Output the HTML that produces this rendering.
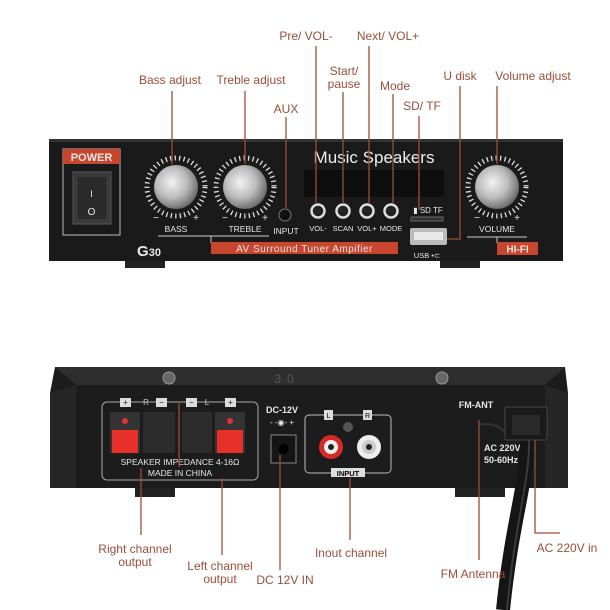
<!DOCTYPE html>
<html><head><meta charset="utf-8"><style>
html,body{margin:0;padding:0;background:#fff;width:610px;height:610px;overflow:hidden}
svg{display:block}
.l{font-family:"Liberation Sans",sans-serif;font-size:12px;fill:#9a4e3a;text-anchor:middle}
.w{font-family:"Liberation Sans",sans-serif;fill:#e8e8e8;text-anchor:middle;font-weight:bold}
.ln{stroke:#9a4e3a;stroke-width:1.3;fill:none}
</style></head><body>
<svg width="610" height="610" viewBox="0 0 610 610" xmlns="http://www.w3.org/2000/svg">
<defs>
<radialGradient id="kn" cx="0.4" cy="0.4" r="0.7"><stop offset="0" stop-color="#f2f2f2"/><stop offset="0.5" stop-color="#bbb"/><stop offset="1" stop-color="#555"/></radialGradient>
</defs>
<!-- FRONT PANEL -->
<rect x="49" y="139" width="514" height="122" fill="#1a1a1a"/>
<rect x="49" y="139" width="514" height="3" fill="#333"/>
<rect x="125" y="261" width="40" height="7" fill="#222"/>
<rect x="440" y="261" width="40" height="7" fill="#222"/>
<rect x="63" y="149" width="57" height="86" fill="none" stroke="#bbb" stroke-width="1"/>
<rect x="63" y="149" width="57" height="15" fill="#c8452e"/>
<text x="91.5" y="161" class="w" style="font-size:11px">POWER</text>
<rect x="73" y="172" width="38" height="52" fill="#3a3a3a" stroke="#555"/>
<rect x="78" y="177" width="28" height="42" fill="#2a2a2a"/>
<text x="91.5" y="197" class="w" style="font-size:9px;font-weight:normal">I</text>
<text x="91.5" y="215" class="w" style="font-size:10px;font-weight:normal">O</text>
<circle cx="176" cy="187" r="29" fill="none" stroke="#ddd" stroke-width="5" stroke-dasharray="1.3 3.2"/>
<circle cx="176" cy="187" r="22" fill="url(#kn)"/>
<circle cx="245" cy="187" r="29" fill="none" stroke="#ddd" stroke-width="5" stroke-dasharray="1.3 3.2"/>
<circle cx="245" cy="187" r="22" fill="url(#kn)"/>
<circle cx="497" cy="187" r="29" fill="none" stroke="#ddd" stroke-width="5" stroke-dasharray="1.3 3.2"/>
<circle cx="497" cy="187" r="22" fill="url(#kn)"/>
<g class="w" style="font-size:10px;font-weight:normal">
<text x="156" y="221">−</text><text x="196" y="221">+</text>
<text x="225" y="221">−</text><text x="265" y="221">+</text>
<text x="477" y="221">−</text><text x="517" y="221">+</text>
</g>
<g class="w" style="font-size:8.5px;font-weight:normal">
<text x="176" y="232">BASS</text><text x="245" y="232">TREBLE</text><text x="286" y="234">INPUT</text>
<text x="497" y="232">VOLUME</text>
<text x="318" y="231" style="font-size:7.5px">VOL-</text><text x="343" y="231" style="font-size:7.5px">SCAN</text>
<text x="367" y="231" style="font-size:7.5px">VOL+</text><text x="391" y="231" style="font-size:7.5px">MODE</text>
<text x="428" y="213" style="font-size:8px">▮ SD  TF</text>
<text x="427" y="258" style="font-size:7.5px">USB •⊂</text>
</g>
<line x1="158" y1="236" x2="269" y2="236" stroke="#ccc"/>
<line x1="211" y1="236" x2="211" y2="243" stroke="#ccc"/>
<line x1="467" y1="237" x2="527" y2="237" stroke="#ccc"/>
<line x1="497" y1="237" x2="497" y2="243" stroke="#ccc"/>
<rect x="211" y="242" width="187" height="12" fill="#c8452e"/>
<text x="304.5" y="252" class="w" style="font-size:10px;font-weight:normal;letter-spacing:0.5px">AV Surround Tuner Ampifier</text>
<rect x="497" y="242" width="41" height="13" fill="#c8452e"/>
<text x="517.5" y="252.5" class="w" style="font-size:10px">HI-FI</text>
<text x="149" y="256" class="w" style="font-size:15px">G<tspan style="font-size:11px">30</tspan></text>
<text x="374" y="163" class="w" style="font-size:17px;font-weight:normal;fill:#eee">Music Speakers</text>
<rect x="304" y="170" width="140" height="27" fill="#0e0e0e"/>
<circle cx="285" cy="215" r="6" fill="#111" stroke="#777"/>
<g fill="#222" stroke="#ddd" stroke-width="2.5">
<circle cx="318" cy="211" r="6.5"/><circle cx="343" cy="211" r="6.5"/><circle cx="367" cy="211" r="6.5"/><circle cx="391" cy="211" r="6.5"/>
</g>
<rect x="411" y="217" width="32" height="4" fill="#333" stroke="#666"/>
<rect x="410" y="228" width="37" height="17" fill="#bbb" rx="2"/>
<rect x="414" y="232" width="29" height="8" fill="#e8e8e8"/>
<text x="170" y="84" class="l">Bass adjust</text>
<text x="251" y="84" class="l">Treble adjust</text>
<text x="286" y="113" class="l">AUX</text>
<text x="306" y="40" class="l">Pre/ VOL-</text>
<text x="388" y="40" class="l">Next/ VOL+</text>
<text x="344" y="75" class="l">Start/</text><text x="344" y="88" class="l">pause</text>
<text x="395" y="90" class="l">Mode</text>
<text x="422" y="110" class="l">SD/ TF</text>
<text x="460" y="80" class="l">U disk</text>
<text x="533" y="80" class="l">Volume adjust</text>
<path class="ln" d="M172 91V164M245 91V164M286 117V208M316 46V204M343 92V204M369 46V204M393 94V204M419 116V210M460 86V239H447M497 86V164"/>
<!-- REAR PANEL -->
<path d="M55 367H565L568 393V488H50V393Z" fill="#1c1c1c"/>
<path d="M55 367H565L545 385H76Z" fill="#2e2e2e"/>
<path d="M50 393L76 385V488H50Z" fill="#262626"/>
<path d="M568 393L545 385V488H568Z" fill="#262626"/>
<rect x="135" y="488" width="40" height="9" fill="#222"/>
<rect x="455" y="488" width="50" height="9" fill="#222"/>
<circle cx="169" cy="378" r="6" fill="#666" stroke="#999"/><circle cx="442" cy="378" r="6" fill="#666" stroke="#999"/>
<text x="287" y="383" style="font-family:'Liberation Sans',sans-serif;font-size:12px;fill:#555;text-anchor:middle;letter-spacing:6px">30</text>
<rect x="102" y="402" width="156" height="78" rx="5" fill="none" stroke="#aaa"/>
<rect x="110" y="412" width="30" height="41" fill="#333"/><rect x="143" y="412" width="32" height="41" fill="#2c2c2c"/>
<rect x="182" y="412" width="30" height="41" fill="#2c2c2c"/><rect x="215" y="412" width="30" height="41" fill="#333"/>
<rect x="112" y="430" width="26" height="23" fill="#e8302a"/><rect x="217" y="430" width="26" height="23" fill="#e8302a"/>
<circle cx="125" cy="421" r="3" fill="#d33"/><circle cx="230" cy="421" r="3" fill="#d33"/>
<g style="font-family:'Liberation Sans',sans-serif;font-size:8px;text-anchor:middle">
<rect x="120" y="398" width="11" height="9" fill="#ddd"/><text x="125.5" y="405" fill="#111">+</text>
<text x="146" y="405" fill="#ccc">R</text>
<rect x="156" y="398" width="11" height="9" fill="#ddd"/><text x="161.5" y="405" fill="#111">−</text>
<rect x="186" y="398" width="11" height="9" fill="#ddd"/><text x="191.5" y="405" fill="#111">−</text>
<text x="207" y="405" fill="#ccc">L</text>
<rect x="225" y="398" width="11" height="9" fill="#ddd"/><text x="230.5" y="405" fill="#111">+</text>
</g>
<text x="180" y="465" class="w" style="font-size:8.5px;font-weight:normal">SPEAKER IMPEDANCE 4-16Ω</text>
<text x="180" y="476" class="w" style="font-size:8.5px;font-weight:normal">MADE IN CHINA</text>
<text x="282" y="413" class="w" style="font-size:9px">DC-12V</text>
<text x="282" y="425" class="w" style="font-size:8px;font-weight:normal">- -◉- +</text>
<rect x="271" y="435" width="25" height="28" fill="#151515" stroke="#888"/>
<circle cx="283.5" cy="449" r="5" fill="#000"/>
<rect x="305" y="415" width="86" height="58" rx="4" fill="none" stroke="#bbb"/>
<rect x="324" y="410" width="9" height="10" fill="#ddd"/><text x="328.5" y="418" style="font-family:'Liberation Sans';font-size:7px;text-anchor:middle">L</text>
<rect x="363" y="410" width="9" height="10" fill="#ddd"/><text x="367.5" y="418" style="font-family:'Liberation Sans';font-size:7px;text-anchor:middle">R</text>
<circle cx="348" cy="427" r="5" fill="#555"/>
<circle cx="331" cy="447" r="12" fill="#d52a25"/><circle cx="331" cy="447" r="7" fill="#eee"/><circle cx="331" cy="447" r="3" fill="#222"/>
<circle cx="369" cy="447" r="12" fill="#eee"/><circle cx="369" cy="447" r="7" fill="#ccc"/><circle cx="369" cy="447" r="3" fill="#222"/>
<rect x="331" y="468" width="34" height="9" fill="#ddd"/>
<text x="348" y="476" style="font-family:'Liberation Sans';font-size:7.5px;font-weight:bold;text-anchor:middle">INPUT</text>
<text x="476" y="408" class="w" style="font-size:9px">FM-ANT</text>
<text x="484" y="451" class="w" style="font-size:9px;text-anchor:start">AC 220V</text>
<text x="484" y="463" class="w" style="font-size:9px;text-anchor:start">50-60Hz</text>
<path d="M478 425Q500 420 510 440" stroke="#333" stroke-width="2" fill="none"/>
<path d="M527 440C528 480 512 520 503 610" stroke="#151515" stroke-width="14" fill="none"/>
<path d="M529 440C530 480 515 520 507 610" stroke="#3a3a3a" stroke-width="2" fill="none"/>
<rect x="505" y="407" width="42" height="33" rx="2" fill="#1a1a1a" stroke="#444"/>
<rect x="512" y="415" width="28" height="20" fill="#2a2a2a"/>
<path class="ln" d="M179 402V467M141 468V535M222 478V555M280 455V570M350 478V540M479 420V560M535 440V533H560"/>
<text x="135" y="553" class="l">Right channel</text><text x="135" y="566" class="l">output</text>
<text x="220" y="570" class="l">Left channel</text><text x="220" y="583" class="l">output</text>
<text x="285" y="584" class="l">DC 12V IN</text>
<text x="351" y="557" class="l">Inout channel</text>
<text x="473" y="578" class="l">FM Antenna</text>
<text x="567" y="552" class="l">AC 220V in</text>
</svg>
</body></html>
